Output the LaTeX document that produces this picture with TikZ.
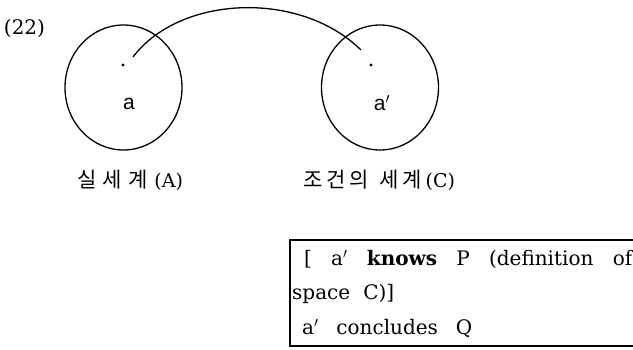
\documentclass[tikz,border=0pt]{standalone}
\usepackage{fontspec}
\usetikzlibrary{shapes.geometric}
\setmainfont{DejaVu Serif}
\newfontfamily\kr{Noto Sans CJK KR}
\newfontfamily\sansf{Liberation Sans}
\begin{document}
\begin{tikzpicture}[x=1pt,y=-1pt,
  world/.style={draw,line width=1.3pt,ellipse,minimum width=117pt,minimum height=125pt,inner sep=0pt},
  wdot/.style={circle,fill,inner sep=0pt,minimum size=3.2pt},
  lbl/.style={inner sep=0pt,font=\sansf\fontsize{21}{24}\selectfont},
  wcaption/.style={inner sep=0pt,font=\fontsize{19}{22}\selectfont},
  txt/.style={inner sep=0pt,anchor=base west,font=\fontsize{20}{24}\selectfont}]
\useasboundingbox (0,0) rectangle (633,350);
\node[world] (A) at (123.5,87.5) {};
\node[world] (C) at (380,87.5) {};
\node[wdot] (da) at (123,65) {};
\node[wdot] (dc) at (371,65) {};
\node[lbl] (la) at (129,104) {a};
\node[lbl] (lc) at (382,103) {a$'$};
\node[wcaption] (ca) at (130,180) {\makebox[106pt][s]{\kr\fontsize{21}{24}\selectfont 실\hfil 세\hfil 계\hfil\normalfont\fontsize{19}{22}\selectfont(A)}};
\node[wcaption] (cc) at (379,180) {\makebox[152pt][s]{\kr\fontsize{21}{24}\selectfont 조\hfil 건\hfil 의\hfil\hfil\hfil 세\hfil 계\hfil\normalfont\fontsize{19}{22}\selectfont(C)}};
\node[inner sep=0pt,font=\fontsize{20}{22}\selectfont] (num) at (24.5,28) {(22)};
\coordinate (s) at (133,57);
\coordinate (e) at (361,50);
\draw[line width=1.3pt] (s) .. controls (180,-5) and (300,-10) .. (e);
\coordinate (b1) at (645,240);
\coordinate (b2) at (290,240);
\coordinate (b3) at (290,346);
\coordinate (b4) at (645,346);
\draw[line width=1.1pt] (b1) -- (b2) -- (b3) -- (b4);
\node[txt] (t1) at (304,266) {\makebox[328pt][s]{[\ \ a$'$ \ \textbf{knows} \ P \ (definition \ of}};
\node[txt] (t2) at (292,300) {\makebox[102pt][s]{space C)]}};
\node[txt] (t3) at (302,335) {\makebox[170pt][s]{a$'$ \ concludes \ Q}};
\end{tikzpicture}
\end{document}
